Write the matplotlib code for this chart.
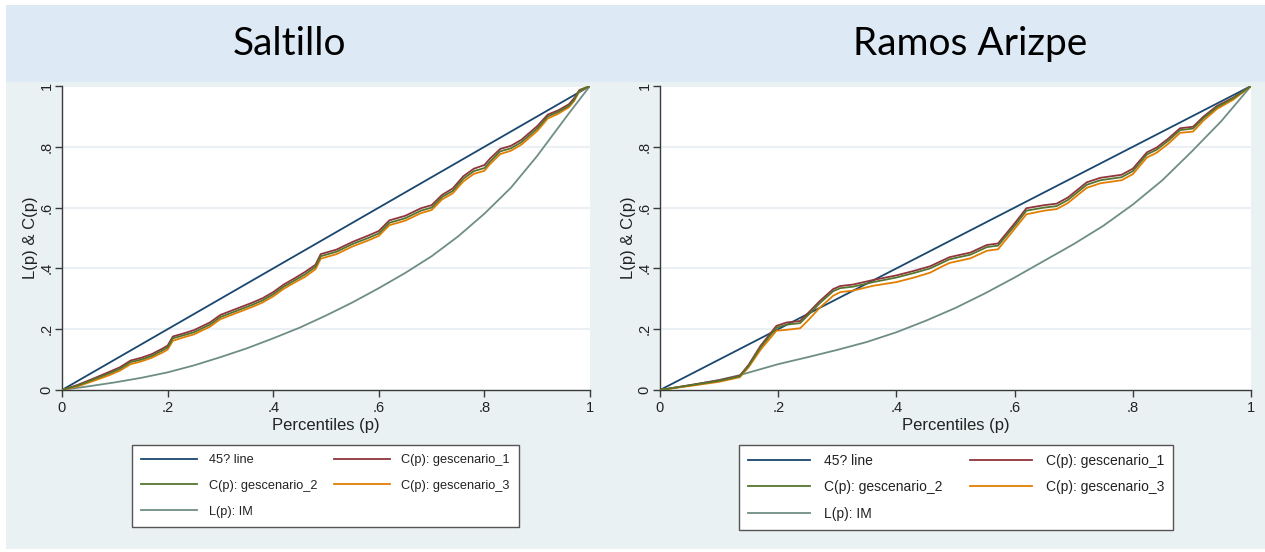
import matplotlib
matplotlib.use("Agg")
import matplotlib.pyplot as plt
from matplotlib.patches import Rectangle

# ---------------- data ----------------
titles = ["Saltillo", "Ramos Arizpe"]
legend_labels = ["45? line", "C(p): gescenario_1", "C(p): gescenario_2",
                 "C(p): gescenario_3", "L(p): IM"]
tick_vals = [0, 0.2, 0.4, 0.6, 0.8, 1]
tick_labels = ["0", ".2", ".4", ".6", ".8", "1"]
diag = [0, 1]

sal_p = [0, .03, .06, .09, .11, .13, .15, .17, .19, .20, .21, .23, .25, .28, .30, .33, .36, .38,
         .40, .42, .44, .46, .48, .49, .52, .55, .58, .60, .62, .65, .68, .70, .72, .74, .76, .78,
         .80, .81, .83, .85, .87, .89, .90, .92, .94, .96, .97, .98, 1]
sal_c1 = [0, .017, .038, .06, .075, .097, .106, .118, .136, .146, .176, .186, .197, .222, .247, .267,
          .287, .302, .322, .347, .367, .388, .412, .447, .462, .487, .508, .523, .558, .573, .598,
          .608, .642, .663, .703, .728, .74, .76, .793, .803, .823, .853, .868, .906, .92, .94, .96,
          .987, 1]
sal_c2 = [0, .015, .035, .055, .07, .092, .10, .112, .13, .14, .17, .18, .19, .215, .24, .26, .28,
          .295, .315, .34, .36, .38, .405, .44, .455, .48, .50, .515, .55, .565, .59, .60, .635, .655,
          .695, .72, .73, .75, .785, .795, .815, .845, .86, .90, .915, .935, .955, .985, 1]
sal_c3 = [0, .012, .03, .049, .064, .085, .094, .106, .123, .133, .162, .173, .183, .208, .233, .253,
          .273, .288, .308, .333, .353, .372, .397, .432, .447, .472, .492, .507, .542, .557, .582,
          .592, .627, .647, .686, .711, .721, .742, .776, .787, .807, .837, .852, .893, .909, .93,
          .951, .983, 1]
sal_lp = [0, .05, .1, .15, .2, .25, .3, .35, .4, .45, .5, .55, .6, .65, .7, .75, .8, .85, .9, .93,
          .96, .98, 1]
sal_l = [0, .012, .025, .04, .058, .081, .108, .137, .17, .205, .245, .288, .335, .385, .44, .505,
         .58, .665, .77, .84, .91, .955, 1]

ram_p = [0, .05, .10, .135, .15, .17, .197, .214, .237, .25, .27, .293, .305, .327, .361, .40, .43,
         .457, .479, .49, .525, .553, .572, .60, .62, .65, .671, .69, .722, .745, .781, .80, .824,
         .84, .86, .88, .902, .92, .942, .97, 1]
ram_c1 = [0, .016, .032, .047, .083, .145, .211, .222, .227, .252, .292, .332, .342, .347, .362,
          .377, .392, .407, .427, .437, .452, .477, .482, .548, .598, .608, .613, .633, .683, .698,
          .708, .728, .782, .797, .827, .861, .866, .9, .934, .962, 1]
ram_c2 = [0, .015, .03, .045, .08, .14, .205, .215, .22, .245, .285, .325, .335, .34, .355, .37,
          .385, .40, .42, .43, .445, .47, .475, .54, .59, .60, .605, .625, .675, .69, .70, .72, .775,
          .79, .82, .855, .86, .895, .93, .96, 1]
ram_c3 = [0, .013, .027, .042, .075, .132, .195, .198, .203, .228, .27, .31, .322, .327, .343, .355,
          .37, .386, .408, .418, .433, .458, .463, .53, .578, .59, .595, .615, .665, .68, .69, .71,
          .765, .78, .81, .846, .85, .887, .924, .955, 1]
ram_lp = [0, .05, .1, .135, .2, .25, .3, .35, .4, .45, .5, .55, .6, .65, .7, .75, .8, .85, .9, .95, 1]
ram_l = [0, .015, .033, .049, .085, .108, .132, .158, .19, .228, .27, .318, .37, .425, .48, .54, .61,
         .69, .785, .885, 1]

colors = {"diag": "#1a476f", "c1": "#90353b", "c2": "#55752f", "c3": "#e37e00", "l": "#6e8e84"}

# ---------------- figure ----------------
W, H = 1265, 552
fig = plt.figure(figsize=(W / 100, H / 100), dpi=100)
fig.patch.set_facecolor("white")

def fx(px):
    return px / W

def fy(py):
    return 1 - py / H

# background regions
fig.add_artist(Rectangle((fx(6), fy(549)), fx(1265) - fx(6), fy(82) - fy(549),
                         transform=fig.transFigure, facecolor="#e9f1f3", edgecolor="none", zorder=0))
fig.add_artist(Rectangle((fx(6), fy(82)), fx(1265) - fx(6), fy(5) - fy(82),
                         transform=fig.transFigure, facecolor="#dde9f5", edgecolor="none", zorder=0))

panels = [
    dict(title=titles[0], tx=289, ax=(62, 590), leg=(132, 519), lfs=9.2, hl=4.4, htp=0.9,
         ls=1.08, bp=0.72,
         p=sal_p, c1=sal_c1, c2=sal_c2, c3=sal_c3, lp=sal_lp, l=sal_l),
    dict(title=titles[1], tx=970, ax=(660, 1251), leg=(739, 1173), lfs=10, hl=4.5, htp=1.0,
         ls=0.92, bp=0.62,
         p=ram_p, c1=ram_c1, c2=ram_c2, c3=ram_c3, lp=ram_lp, l=ram_l),
]

for P in panels:
    x0, x1 = P["ax"]
    ax = fig.add_axes([fx(x0), fy(390), (x1 - x0) / W, (390 - 86) / H])
    ax.set_facecolor("white")
    ax.set_xlim(0, 1)
    ax.set_ylim(0, 1)
    for g in [0.2, 0.4, 0.6, 0.8, 1.0]:
        ax.axhline(g, color="#eaf0f4", lw=1.5, zorder=0)
    lw = 1.3
    h_d, = ax.plot(diag, diag, color=colors["diag"], lw=lw, zorder=3)
    h_l, = ax.plot(P["lp"], P["l"], color=colors["l"], lw=lw, zorder=3)
    h_c1, = ax.plot(P["p"], P["c1"], color=colors["c1"], lw=lw, zorder=4)
    h_c3, = ax.plot(P["p"], P["c3"], color=colors["c3"], lw=lw, zorder=4)
    h_c2, = ax.plot(P["p"], P["c2"], color=colors["c2"], lw=lw, zorder=5)

    for s in ["top", "right"]:
        ax.spines[s].set_visible(False)
    for s in ["left", "bottom"]:
        ax.spines[s].set_color("#3a3a3a")
        ax.spines[s].set_linewidth(1.0)
    ax.set_xticks(tick_vals)
    ax.set_xticklabels(tick_labels)
    ax.set_yticks(tick_vals)
    ax.set_yticklabels(tick_labels, rotation=90, va="center")
    ax.tick_params(axis="both", direction="out", length=5, width=1.0, color="#3a3a3a",
                   labelsize=10.5, labelcolor="#222222")
    ax.tick_params(axis="x", pad=3)
    ax.tick_params(axis="y", pad=1)
    for t in ax.get_xticklabels() + ax.get_yticklabels():
        t.set_fontfamily("Liberation Sans")
    ax.set_xlabel("Percentiles (p)", fontsize=12, family="Liberation Sans",
                  color="#222222", labelpad=2)
    ax.set_ylabel("L(p) & C(p)", fontsize=12, family="Liberation Sans",
                  color="#222222", labelpad=1)

    fig.text(fx(P["tx"]), fy(44), P["title"], fontsize=28, family="Lato",
             ha="center", va="center", color="black")

    lx0, lx1 = P["leg"]
    handles = [h_d, h_c2, h_l, h_c1, h_c3]
    labels = [legend_labels[0], legend_labels[2], legend_labels[4],
              legend_labels[1], legend_labels[3]]
    leg = fig.legend(handles, labels, ncol=2, loc="upper left",
                     bbox_to_anchor=(fx(lx0), fy(445), (lx1 - lx0) / W, 0.0001),
                     mode="expand", frameon=True, fancybox=False, framealpha=1,
                     edgecolor="#555555", facecolor="white",
                     prop={"family": "Liberation Sans", "size": P["lfs"]},
                     handlelength=P["hl"], handletextpad=P["htp"], borderaxespad=0,
                     labelspacing=P["ls"], borderpad=P["bp"], columnspacing=1.0)
    leg.get_frame().set_linewidth(1.0)
    for t in leg.get_texts():
        t.set_color("#222222")

fig.savefig("out.png", dpi=100)
